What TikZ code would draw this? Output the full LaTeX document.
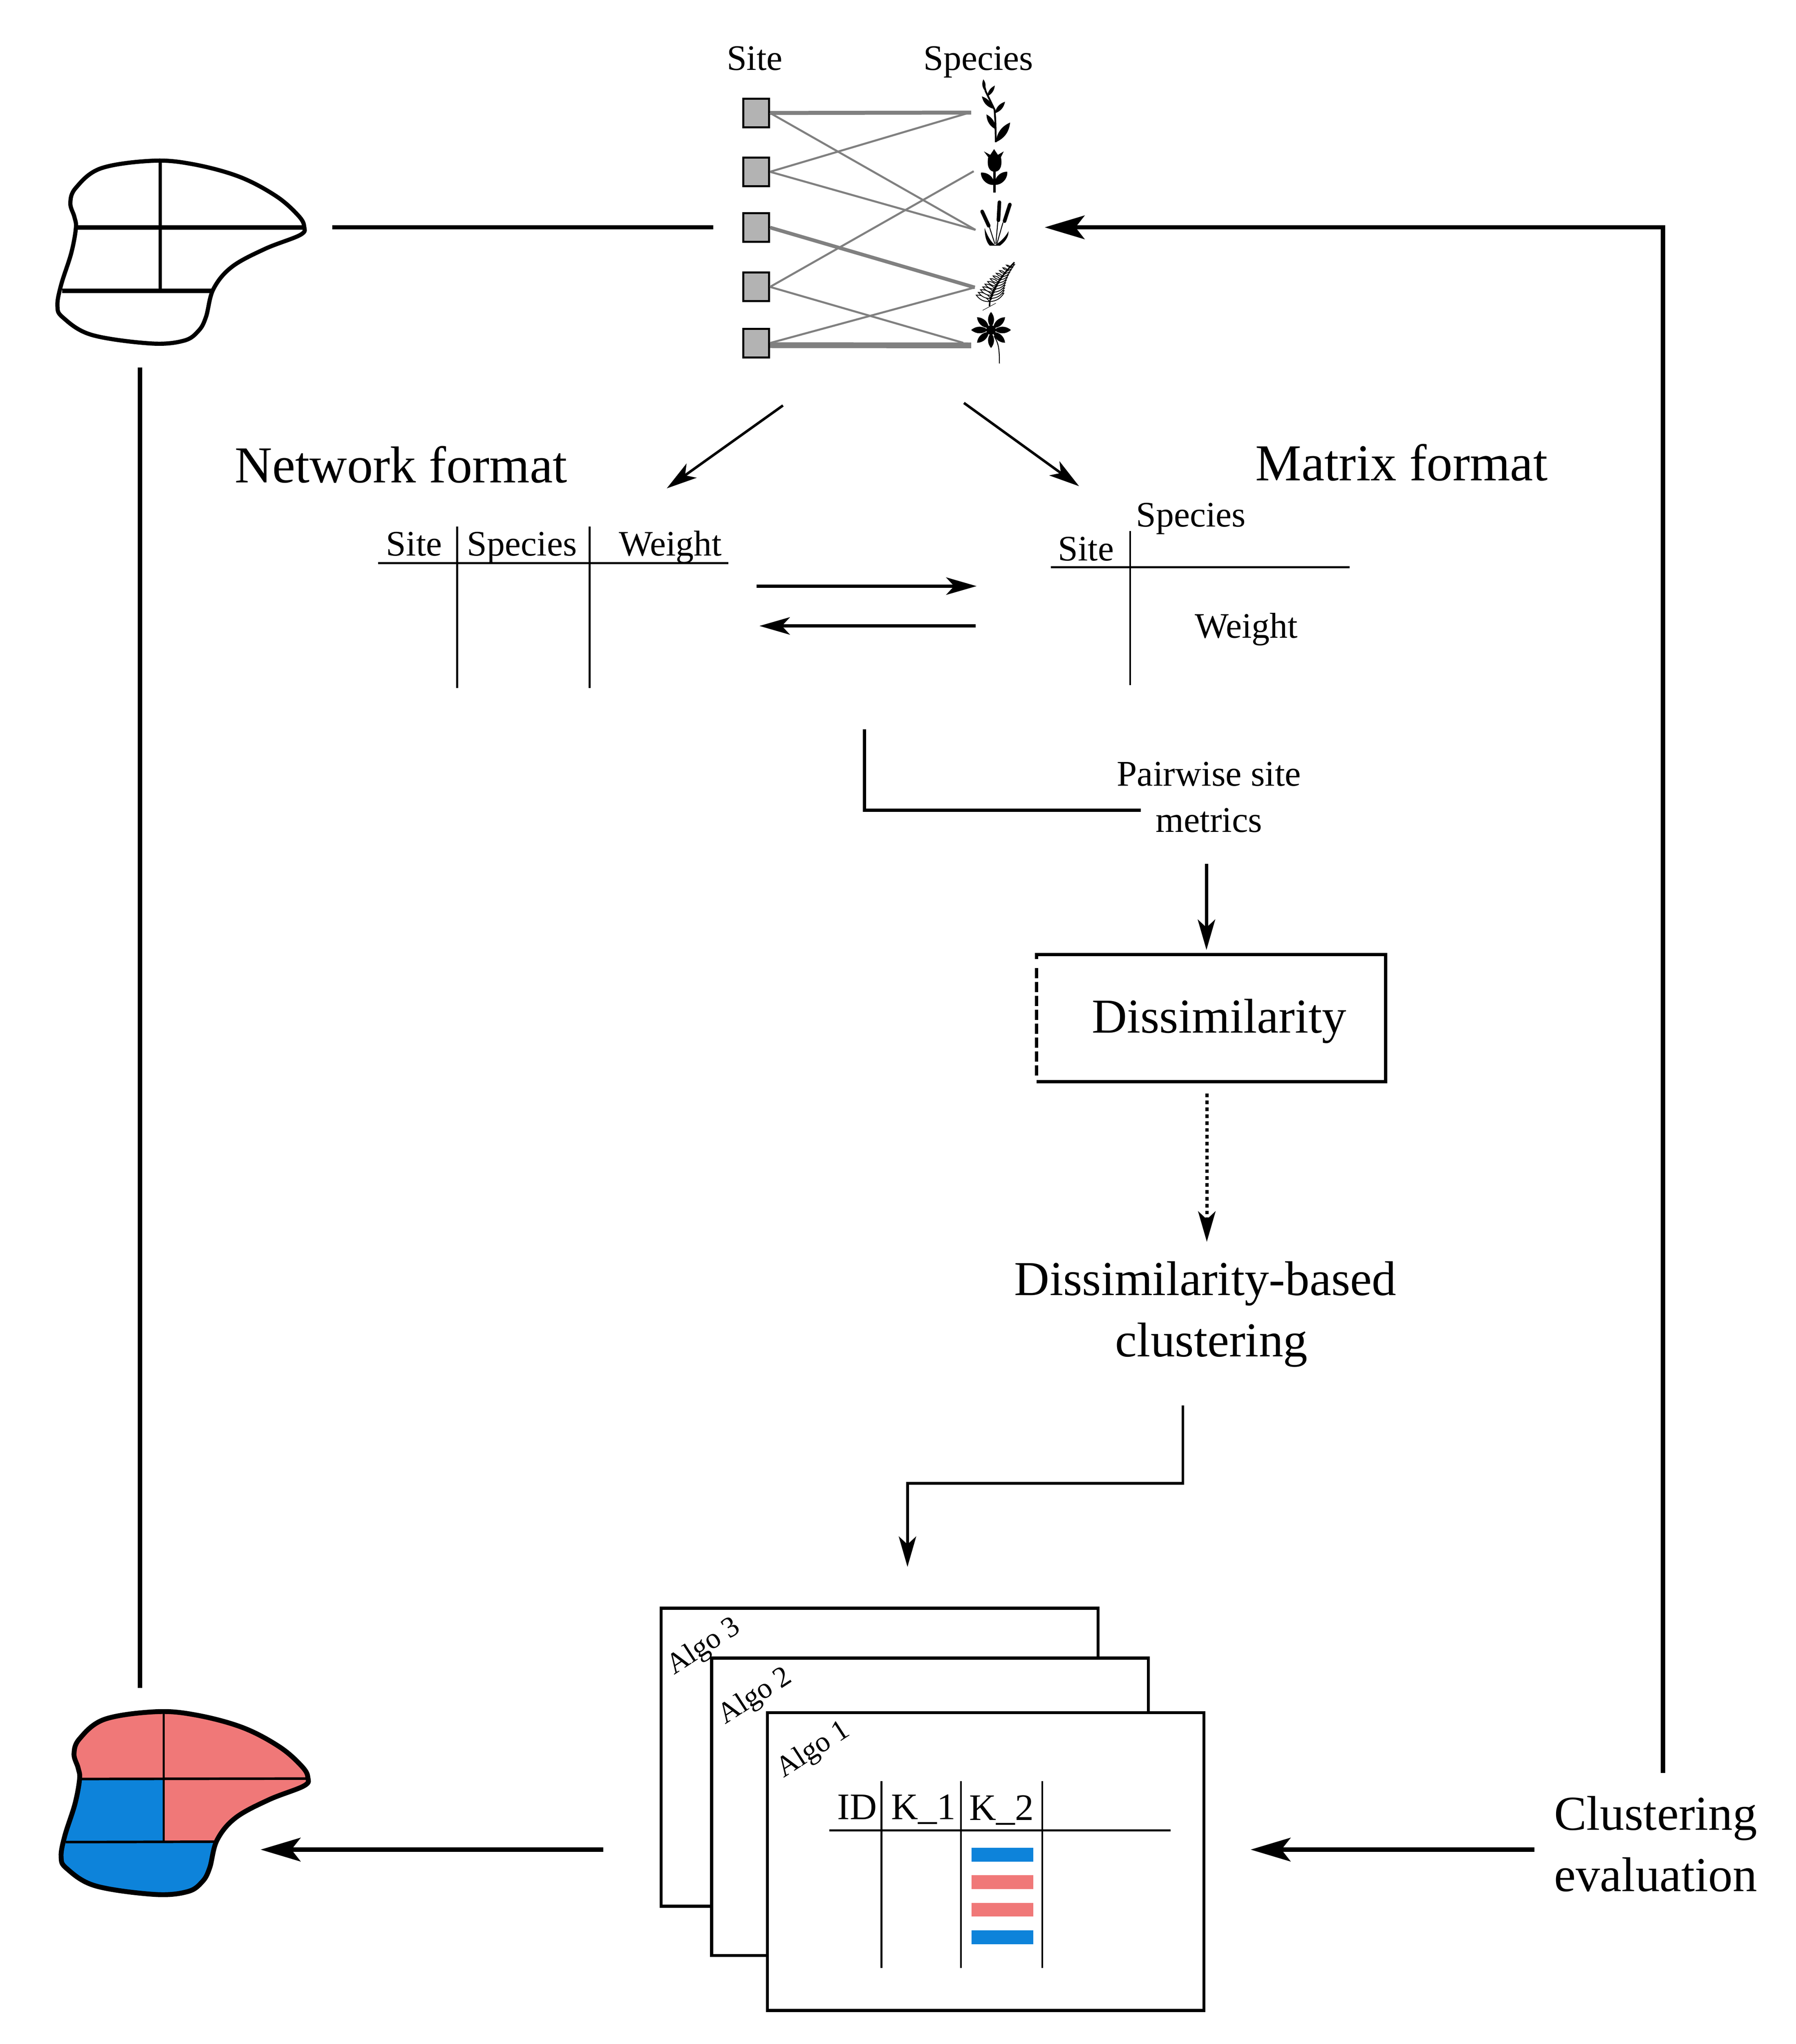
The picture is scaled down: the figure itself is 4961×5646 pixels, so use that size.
\documentclass[tikz,border=0pt]{standalone}
\usepackage{fontspec}
\setmainfont{Liberation Serif}
\usetikzlibrary{arrows.meta}
\definecolor{mapred}{HTML}{F07878}
\definecolor{mapblue}{HTML}{0D83DA}
\definecolor{edgegray}{HTML}{808080}
\definecolor{sitegray}{HTML}{B3B3B3}
\newcommand\mapshape[1]{\path[#1] plot[smooth cycle,tension=0.6] coordinates {(630,115) (850,140) (1100,230) (1300,370) (1420,510) (1452,590) (1430,650) (1240,750) (1060,880) (960,1040) (920,1240) (880,1340) (800,1412) (620,1432) (300,1370) (145,1245) (115,1160) (135,1010) (190,780) (215,600) (207,520) (185,420) (215,310) (350,170)};}
\newcommand\plantleaf[3]{\fill (#1) to[bend left=#3] (#2) to[bend left=#3] (#1);}
\tikzset{
  lab/.style={inner sep=0pt,anchor=base,text=black},
  txtsmall/.style={lab,font=\fontsize{28.2pt}{28.2pt}\selectfont},
  txtmid/.style={lab,font=\fontsize{38.3pt}{38.3pt}\selectfont},
  txtbig/.style={lab,font=\fontsize{40.7pt}{40.7pt}\selectfont},
  txtalgo/.style={inner sep=0pt,font=\fontsize{23pt}{23pt}\selectfont,rotate=33},
  txtid/.style={lab,font=\fontsize{29.4pt}{29.4pt}\selectfont},
  site/.style={draw=black,fill=sitegray,line width=0.055cm,minimum width=0.71cm,minimum height=0.79cm,inner sep=0pt},
  linkthin/.style={draw=edgegray,line width=0.055cm},
  linkfat/.style={draw=edgegray,line width=0.11cm},
  flowfat/.style={draw=black,line width=0.12cm},
  flowmid/.style={draw=black,line width=0.09cm},
  headfat/.style={-{Stealth[length=1.1cm,width=0.65cm,inset=0.25cm]}},
  headthin/.style={-{Stealth[length=0.84cm,width=0.48cm,inset=0.22cm]}},
  tableline/.style={draw=black,line width=0.05cm},
  sheet/.style={draw=black,fill=white,line width=0.085cm,inner sep=0pt},
  clusterbar/.style={inner sep=0pt,minimum width=1.71cm,minimum height=0.38cm},
  mapscope/.style={x=0.005102cm,y=-0.003827cm},
  plantscope/.style={x=0.007015cm,y=-0.006378cm},
}
\begin{document}
\begin{tikzpicture}[x=0.01cm,y=-0.01cm]
\useasboundingbox (0,0) rectangle (4961,5646);
% ---------- free connector ends
\coordinate (mapTopE) at (918,628);
\coordinate (graphW) at (1970,628);
\coordinate (mapTopS) at (387,1015);
\coordinate (mapBotN) at (387,4662);
\coordinate (evalN) at (4594,4897);
\coordinate (evalCorner) at (4594,628);
\coordinate (graphE) at (2886,628);
\coordinate (graphSL) at (2163,1120);
\coordinate (netIn) at (1842,1349);
\coordinate (graphSR) at (2663,1113);
\coordinate (matIn) at (2981,1343);
\coordinate (netE1) at (2090,1619);
\coordinate (matW1) at (2698,1619);
\coordinate (matW2) at (2695,1729);
\coordinate (netE2) at (2098,1729);
\coordinate (tabS) at (2388,2015);
\coordinate (tabCorner) at (2388,2238);
\coordinate (pairW) at (3151,2238);
\coordinate (pairS) at (3333,2386);
\coordinate (dissN) at (3333,2624);
\coordinate (dissS) at (3334,3021);
\coordinate (clustN) at (3334,3430);
\coordinate (clustS) at (3268,3882);
\coordinate (c1) at (3268,4097);
\coordinate (c2) at (2507,4097);
\coordinate (algoN) at (2507,4328);
\coordinate (sheetsW) at (1667,5109);
\coordinate (mapBotE) at (720,5109);
\coordinate (evalW) at (4239,5109);
\coordinate (sheetsE) at (3455,5109);
% ---------- top map
\begin{scope}[shift={(100,400)},mapscope]
  \mapshape{draw=black,line width=0.115cm,line join=round}
  \coordinate (m1a) at (225,597); \coordinate (m1b) at (1445,597);
  \coordinate (m1c) at (672,120); \coordinate (m1d) at (672,1053);
  \coordinate (m1e) at (140,1053); \coordinate (m1f) at (950,1053);
  \draw[line width=0.125cm] (m1a) -- (m1b);
  \draw[line width=0.125cm] (m1e) -- (m1f);
  \draw[line width=0.09cm] (m1c) -- (m1d);
\end{scope}
% ---------- bottom map
\begin{scope}[shift={(110.2,4684)},mapscope]
  \begin{scope}
    \mapshape{clip}
    \fill[mapred] (0,0) rectangle (1600,1600);
    \fill[mapblue] (0,600) rectangle (671,1600);
    \fill[mapblue] (0,1055) rectangle (1600,1600);
  \end{scope}
  \coordinate (m2a) at (225,600); \coordinate (m2b) at (1440,597);
  \coordinate (m2c) at (671,120); \coordinate (m2d) at (671,1055);
  \coordinate (m2e) at (140,1055); \coordinate (m2f) at (950,1052);
  \draw[line width=0.07cm] (m2a) -- (m2b);
  \draw[line width=0.07cm] (m2e) -- (m2f);
  \draw[line width=0.06cm] (m2c) -- (m2d);
  \mapshape{draw=black,line width=0.135cm,line join=round}
\end{scope}
% ---------- bipartite graph
\node[txtsmall] (siteHead) at (2085,193.5) {Site};
\node[txtsmall] (speciesHead) at (2703,193.5) {Species};
\node[site] (s1) at (2089,312) {};
\node[site] (s2) at (2089,474.5) {};
\node[site] (s3) at (2089,628.5) {};
\node[site] (s4) at (2089,792.5) {};
\node[site] (s5) at (2089,947.5) {};
\coordinate (sp1) at (2683,311);
\coordinate (sp1b) at (2672,313);
\coordinate (sp2) at (2690,473);
\coordinate (sp3) at (2695,635);
\coordinate (sp4) at (2693,794);
\coordinate (sp5) at (2661,947);
\coordinate (sp5b) at (2683,954);
\draw[linkfat] (s1.east) -- (sp1);
\draw[linkthin] (s1.east) -- (sp3);
\draw[linkthin] (s2.east) -- (sp1b);
\draw[linkthin] (s2.east) -- (sp3);
\draw[linkfat,line width=0.1cm] (s3.east) -- (sp4);
\draw[linkthin] (s4.east) -- (sp2);
\draw[linkthin] (s4.east) -- (sp5);
\draw[linkthin] (s5.east) -- (sp4);
\draw[linkfat,line width=0.16cm] ([yshift=-0.06cm]s5.east) -- (sp5b);
% ---------- plants
\begin{scope}[shift={(1900,80)},plantscope]
  % plant 1: twig
  \draw[line width=0.05cm] (1212,490) -- (1210,400) -- (1207,350) -- (1172,270) -- (1165,240);
  \plantleaf{1212,490}{1268,405}{30}
  \plantleaf{1212,435}{1175,370}{30}
  \plantleaf{1208,365}{1248,315}{30}
  \plantleaf{1200,345}{1157,292}{30}
  \plantleaf{1178,292}{1208,245}{28}
  \plantleaf{1167,265}{1163,218}{30}
  % plant 2: tulip
  \fill (1165,530) -- (1190,545) -- (1205,520) -- (1220,545) -- (1243,530) -- (1232,555) .. controls (1238,590) and (1230,618) .. (1207,618) .. controls (1184,618) and (1176,590) .. (1182,555) -- cycle;
  \draw[line width=0.065cm] (1207,610) -- (1207,708);
  \plantleaf{1207,675}{1153,622}{48}
  \plantleaf{1257,618}{1207,675}{48}
  % plant 3: cattails
  \draw[line width=0.1cm,line cap=round] (1226,750) -- (1222,828);
  \draw[line width=0.1cm,line cap=round] (1158,790) -- (1184,852);
  \draw[line width=0.1cm,line cap=round] (1267,760) -- (1246,832);
  \draw[line width=0.025cm] (1186,855) -- (1208,930);
  \draw[line width=0.025cm] (1220,830) -- (1212,930);
  \draw[line width=0.025cm] (1240,838) -- (1216,930);
  \fill (1168,862) .. controls (1168,900) and (1176,925) .. (1188,938) -- (1212,938) .. controls (1195,925) and (1180,900) .. (1168,862) -- cycle;
  \fill (1262,875) .. controls (1262,905) and (1244,925) .. (1228,938) -- (1204,938) .. controls (1228,925) and (1250,900) .. (1262,875) -- cycle;
  % plant 4: fern
  \draw[line width=0.04cm] (1187,1200) .. controls (1187,1150) and (1215,1090) .. (1285,1010);
  \draw[line width=0.012cm] (1160,1218) -- (1212,1187);
  \foreach \t in {0,0.08,...,0.96}{
    \pgfmathsetmacro\bx{1187+\t*(1285-1187)-12*sin(\t*180)}
    \pgfmathsetmacro\by{1180-\t*(1180-1010)}
    \pgfmathsetmacro\s{1-0.8*\t}
    \pgfmathsetmacro\lx{\bx-52*\s}
    \pgfmathsetmacro\ly{\by-28*\s}
    \pgfmathsetmacro\rx{\bx+56*\s}
    \pgfmathsetmacro\ry{\by-36*\s}
    \draw[line width=0.022cm,fill=white] (\bx,\by) to[bend left=28] (\lx,\ly) to[bend left=28] (\bx,\by);
    \draw[line width=0.022cm,fill=white] (\bx,\by) to[bend left=28] (\rx,\ry) to[bend left=28] (\bx,\by);
  }
  % plant 5: daisy
  \draw[line width=0.025cm] (1205,1330) .. controls (1222,1360) and (1226,1380) .. (1226,1448);
  \begin{scope}[shift={(1193,1303)}]
    \foreach \a in {0,45,...,315}{
      \fill (\a:12) to[bend left=42] (\a:78) to[bend left=42] (\a:12);
    }
    \fill (0,0) circle[radius=0.13cm];
  \end{scope}
\end{scope}
% ---------- long connectors
\draw[flowfat] (mapTopE) -- (graphW);
\draw[flowfat] (mapTopS) -- (mapBotN);
\draw[flowfat,headfat] (evalN) -- (evalCorner) -- (graphE);
\draw[flowmid,line width=0.07cm,headthin] (graphSL) -- (netIn);
\draw[flowmid,line width=0.07cm,headthin] (graphSR) -- (matIn);
% ---------- network table
\node[txtbig] (netTitle) at (1108,1333) {Network format};
\node[txtsmall] (netSite) at (1144,1535) {Site};
\node[txtsmall] (netSpecies) at (1442,1535) {Species};
\node[txtsmall] (netWeight) at (1852,1535) {Weight};
\coordinate (nh1) at (1044,1555); \coordinate (nh2) at (2012,1555);
\coordinate (nv1) at (1263,1454); \coordinate (nv1b) at (1263,1900);
\coordinate (nv2) at (1629,1454); \coordinate (nv2b) at (1629,1900);
\draw[tableline,line width=0.055cm] (nh1) -- (nh2);
\draw[tableline] (nv1) -- (nv1b);
\draw[tableline] (nv2) -- (nv2b);
% ---------- matrix table
\node[txtbig] (matTitle) at (3872,1327) {Matrix format};
\node[txtsmall] (matSpecies) at (3290,1455) {Species};
\node[txtsmall] (matSite) at (3000,1549) {Site};
\node[txtsmall] (matWeight) at (3443,1762) {Weight};
\coordinate (mh1) at (2903,1566.5); \coordinate (mh2) at (3729,1566.5);
\coordinate (mv1) at (3122,1467); \coordinate (mv1b) at (3122,1892);
\draw[tableline,line width=0.055cm] (mh1) -- (mh2);
\draw[tableline] (mv1) -- (mv1b);
\draw[flowmid,headthin] (netE1) -- (matW1);
\draw[flowmid,headthin] (matW2) -- (netE2);
% ---------- pairwise
\node[txtsmall,font=\fontsize{28.45pt}{28.45pt}\selectfont] (pair1) at (3340,2171) {Pairwise site};
\node[txtsmall,font=\fontsize{28.45pt}{28.45pt}\selectfont] (pair2) at (3340,2298) {metrics};
\draw[flowmid] (tabS) -- (tabCorner) -- (pairW);
\draw[flowmid,headthin] (pairS) -- (dissN);
% ---------- dissimilarity box
\node[inner sep=0pt,minimum width=9.62cm,minimum height=3.49cm] (dissbox) at (3346,2812.5) {};
\node[txtmid] (disstext) at (3368,2852.5) {Dissimilarity};
\draw[flowmid] ([yshift=-0.12cm]dissbox.north west) -- (dissbox.north west) -- (dissbox.north east) -- (dissbox.south east) -- (dissbox.south west);
\draw[flowmid,dash pattern=on 0.28cm off 0.103cm] ([yshift=-0.37cm]dissbox.north west) -- ([yshift=0.16cm]dissbox.south west);
\draw[flowmid,dash pattern=on 0.1cm off 0.09cm,headthin] (dissS) -- (clustN);
% ---------- dissimilarity-based clustering
\node[txtmid] (clust1) at (3330,3578) {Dissimilarity-based};
\node[txtmid] (clust2) at (3347,3747) {clustering};
\draw[flowmid,line width=0.075cm,headthin] (clustS) -- (c1) -- (c2) -- (algoN);
% ---------- algorithm sheets
\node[sheet,minimum width=12.06cm,minimum height=8.225cm] (sheet3) at (2430,4854) {};
\node[txtalgo] (algo3) at (1945,4550) {Algo 3};
\node[sheet,minimum width=12.06cm,minimum height=8.21cm] (sheet2) at (2569,4990.5) {};
\node[txtalgo] (algo2) at (2087,4687) {Algo 2};
\node[sheet,minimum width=12.055cm,minimum height=8.22cm] (sheet1) at (2723,5142) {};
\node[txtalgo] (algo1) at (2248,4835) {Algo 1};
\node[txtid] (idHead) at (2368,5026) {ID};
\node[txtid] (k1Head) at (2551,5026) {K\_1};
\node[txtid] (k2Head) at (2767,5028) {K\_2};
\coordinate (th1) at (2291,5056); \coordinate (th2) at (3234,5056);
\coordinate (tv1) at (2435,4920); \coordinate (tv1b) at (2435,5436);
\coordinate (tv2) at (2655,4920); \coordinate (tv2b) at (2655,5436);
\coordinate (tv3) at (2879.5,4920); \coordinate (tv3b) at (2879.5,5436);
\draw[tableline] (th1) -- (th2);
\draw[tableline] (tv1) -- (tv1b);
\draw[tableline] (tv2) -- (tv2b);
\draw[tableline] (tv3) -- (tv3b);
\node[clusterbar,fill=mapblue] (bar1) at (2769.5,5123) {};
\node[clusterbar,fill=mapred] (bar2) at (2769.5,5199) {};
\node[clusterbar,fill=mapred] (bar3) at (2769.5,5275) {};
\node[clusterbar,fill=mapblue] (bar4) at (2769.5,5351) {};
% ---------- bottom arrows and evaluation
\draw[flowfat,headfat] (sheetsW) -- (mapBotE);
\draw[flowfat,headfat] (evalW) -- (sheetsE);
\node[txtmid] (eval1) at (4574,5055) {Clustering};
\node[txtmid] (eval2) at (4574,5224) {evaluation};
\end{tikzpicture}
\end{document}
